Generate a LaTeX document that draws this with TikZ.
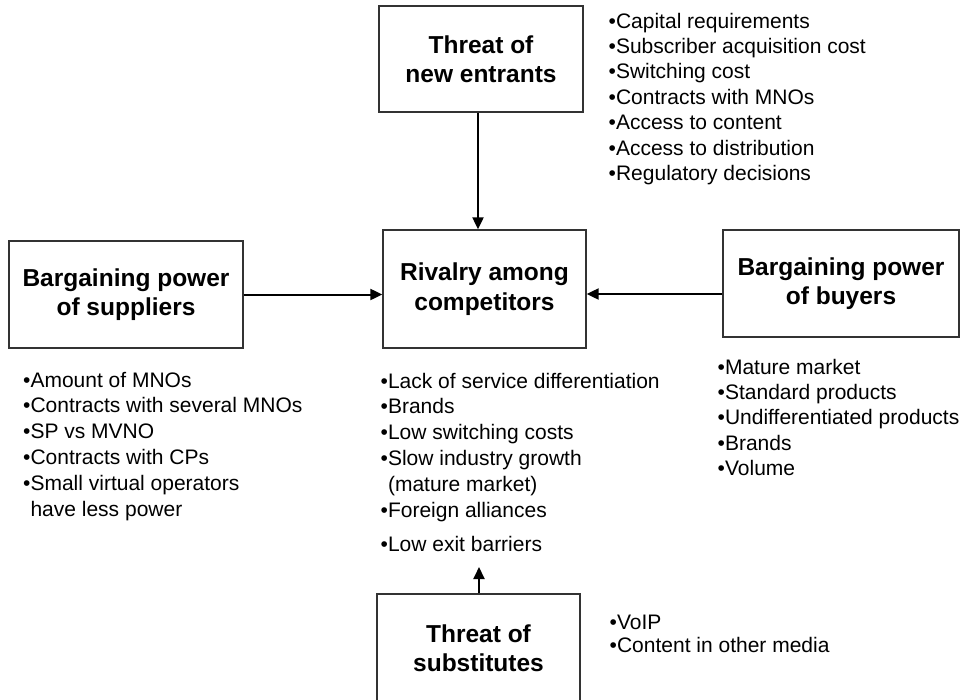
\documentclass[tikz,border=0pt]{standalone}
\usepackage{fontspec}
\setmainfont{Liberation Sans}
\usetikzlibrary{arrows.meta}
\begin{document}
\begin{tikzpicture}[x=1pt,y=-1pt,
  force/.style={draw=black!80, line width=1.3pt, inner sep=0pt, align=center,
    font=\fontsize{24.5}{29.5}\selectfont\bfseries},
  factors/.style={anchor=north west, inner sep=0pt, align=left,
    font=\fontsize{21}{25.4}\selectfont},
  push/.style={line width=2pt, -{Triangle[length=12pt,width=11pt]}}]
\clip (0,0) rectangle (965,699);

% the five forces
\node[force, minimum width=204pt, minimum height=106pt] (entrants) at (481,59) {Threat of\\new entrants};
\node[force, minimum width=203pt, minimum height=118pt] (rivalry) at (484.5,289) {Rivalry among\\competitors};
\node[force, minimum width=234pt, minimum height=107pt] (suppliers) at (126,294.5) {Bargaining power\\of suppliers};
\node[force, minimum width=236pt, minimum height=107pt] (buyers) at (841,283.5) {Bargaining power\\of buyers};
\node[force, minimum width=203pt, minimum height=108pt] (substitutes) at (478.5,648) {Threat of\\substitutes};

% factor lists
\node[factors] (entryfactors) at (608.5,12.7) {•Capital requirements\\•Subscriber acquisition cost\\•Switching cost\\•Contracts with MNOs\\•Access to content\\•Access to distribution\\•Regulatory decisions};
\node[factors, font=\fontsize{21}{25.8}\selectfont] (supplierfactors) at (23,371.7) {•Amount of MNOs\\•Contracts with several MNOs\\•SP vs MVNO\\•Contracts with CPs\\•Small virtual operators\\\hphantom{•}have less power};
\node[factors, font=\fontsize{21}{25.8}\selectfont] (rivalryfactors) at (380.5,372.7) {•Lack of service differentiation\\•Brands\\•Low switching costs\\•Slow industry growth\\\hphantom{•}(mature market)\\•Foreign alliances\\[9pt]•Low exit barriers};
\node[factors] (buyerfactors) at (717.5,358.7) {•Mature market\\•Standard products\\•Undifferentiated products\\•Brands\\•Volume};
\node[factors, font=\fontsize{21}{23.5}\selectfont] (substitutefactors) at (609.5,614.7) {•VoIP\\•Content in other media};

% influences on rivalry
\coordinate (entrycol) at (478,0);
\coordinate (buyerrow) at (0,294);
\coordinate (exittip) at (479,567);
\draw[push] (entrants.south -| entrycol) -- (rivalry.north -| entrycol);
\draw[push] (suppliers.east) -- (suppliers.east -| rivalry.west);
\draw[push] (buyers.west |- buyerrow) -- (rivalry.east |- buyerrow);
\draw[push] (substitutes.north -| exittip) -- (exittip);
\end{tikzpicture}
\end{document}
